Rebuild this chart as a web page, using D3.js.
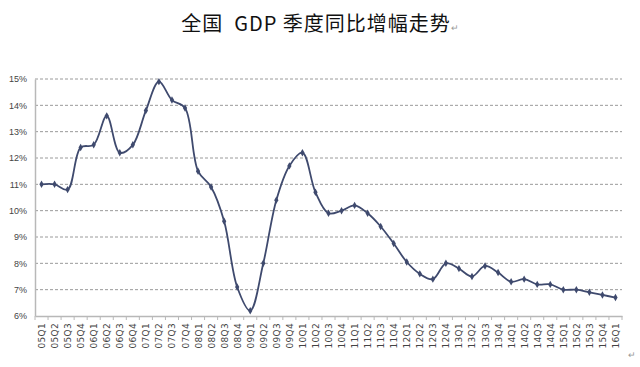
<!DOCTYPE html>
<html><head><meta charset="utf-8">
<script src="https://cdn.jsdelivr.net/npm/d3@7"></script>
<style>body{margin:0;background:#fff}svg{display:block}</style>
</head><body>
<script>
const categories = ["05Q1","05Q2","05Q3","05Q4","06Q1","06Q2","06Q3","06Q4","07Q1","07Q2","07Q3","07Q4","08Q1","08Q2","08Q3","08Q4","09Q1","09Q2","09Q3","09Q4","10Q1","10Q2","10Q3","10Q4","11Q1","11Q2","11Q3","11Q4","12Q1","12Q2","12Q3","12Q4","13Q1","13Q2","13Q3","13Q4","14Q1","14Q2","14Q3","14Q4","15Q1","15Q2","15Q3","15Q4","16Q1"];
const gdpGrowth = [11.0,11.0,10.8,12.4,12.5,13.6,12.2,12.5,13.8,14.9,14.2,13.9,11.5,10.9,9.6,7.1,6.2,8.0,10.4,11.7,12.2,10.7,9.9,10.0,10.2,9.9,9.4,8.75,8.05,7.6,7.4,8.0,7.8,7.5,7.9,7.65,7.3,7.4,7.2,7.2,7.0,7.0,6.9,6.8,6.7];
const yTicks = [6,7,8,9,10,11,12,13,14,15];
const title = "全国\u00a0\u00a0GDP\u00a0季度同比增幅走势";

const W = 640, H = 367;
const svg = d3.select("body").append("svg").attr("width", W).attr("height", H);
const mLeft = 35, mRight = 622, mTop = 79, mBottom = 316;

const x = d3.scaleBand().domain(categories).range([mLeft, mRight]);
const y = d3.scaleLinear().domain([6, 15]).range([mBottom, mTop]);

// gridlines
svg.append("g").selectAll("line").data(yTicks.filter(d => d > 6)).join("line")
  .attr("x1", mLeft).attr("x2", mRight)
  .attr("y1", d => y(d)).attr("y2", d => y(d))
  .attr("stroke", "#9a9a9a").attr("stroke-width", 1)
  .attr("stroke-dasharray", "3,2");

// y axis
const yAxis = svg.append("g").attr("transform", `translate(${mLeft},0)`)
  .call(d3.axisLeft(y).tickValues(yTicks).tickSize(0).tickPadding(8).tickFormat(d => d + "%"));
yAxis.select(".domain").attr("stroke", "#b8b8b8").attr("stroke-width", 1.5);
yAxis.selectAll("text").attr("font-family", "Liberation Sans, Arial, sans-serif")
  .attr("font-size", 9).attr("fill", "#444");

// x axis
const xAxis = svg.append("g").attr("transform", `translate(0,${mBottom})`)
  .call(d3.axisBottom(x).tickSize(0).tickPadding(0));
xAxis.select(".domain").attr("stroke", "#b8b8b8").attr("stroke-width", 1.5);
xAxis.selectAll("text")
  .attr("font-family", "DejaVu Sans, sans-serif")
  .attr("font-size", 9).attr("fill", "#444")
  .attr("letter-spacing", 0.3)
  .attr("text-anchor", "end")
  .attr("transform", "translate(3.5,7) rotate(-90)")
  .attr("dy", 0).attr("dx", 0).attr("y", 0);
// category boundary ticks
const bounds = categories.map(c => x(c)).concat([mRight]);
svg.append("g").selectAll("line").data(bounds).join("line")
  .attr("x1", d => d).attr("x2", d => d)
  .attr("y1", mBottom).attr("y2", mBottom + 4)
  .attr("stroke", "#b8b8b8").attr("stroke-width", 1);

// line
const pts = categories.map((c, i) => [x(c) + x.bandwidth() / 2, y(gdpGrowth[i])]);
svg.append("path")
  .attr("d", d3.line().curve(d3.curveCatmullRom.alpha(0.5))(pts))
  .attr("fill", "none").attr("stroke", "#3f4a6e").attr("stroke-width", 1.8);
svg.append("g").selectAll("path").data(pts).join("path")
  .attr("transform", d => `translate(${d[0]},${d[1]})`)
  .attr("d", d3.symbol(d3.symbolDiamond, 16))
  .attr("fill", "#3f4a6e");

// title
const t = svg.append("text").attr("x", 320).attr("y", 31).attr("text-anchor", "middle")
  .attr("font-family", "Noto Sans CJK SC, sans-serif").attr("font-size", 20).attr("fill", "#111")
  .attr("letter-spacing", 1);
t.append("tspan").text(title);
t.append("tspan").attr("font-size", 9).attr("fill", "#999").attr("letter-spacing", 0).text("↵");

svg.append("text").attr("x", 632).attr("y", 358).attr("text-anchor", "middle")
  .attr("font-family", "Noto Sans CJK SC, sans-serif").attr("font-size", 9).attr("fill", "#999").text("↵");
</script>
</body></html>
